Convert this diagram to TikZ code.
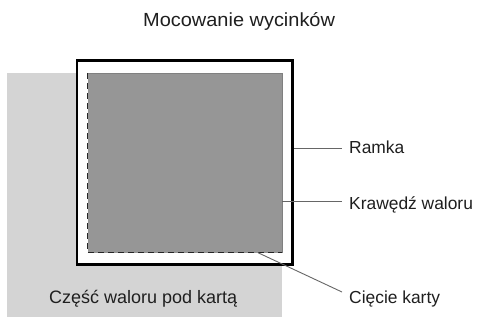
\documentclass[tikz,border=0pt]{standalone}
\usepackage{fontspec}
\setmainfont{Liberation Sans}
\begin{document}
\begin{tikzpicture}[x=1pt,y=-1pt,
  lbl/.style={anchor=base west,inner sep=0pt,text=black!88,font=\fontsize{17.4}{20}\selectfont},
  lead/.style={draw=black!60,line width=0.9pt},
  ]
\useasboundingbox (0,0) rectangle (478,327);
\fill[white] (0,0) rectangle (478,327);
% card (light gray)
\fill[black!17] (7,73) rectangle (282,317);
% white inner of frame
\fill[white] (77,60.3) rectangle (282,264.7);
\fill[white] (282,60.3) rectangle (292.7,264.7);
% stamp
\fill[black!41] (87.5,73) rectangle (282,252.7);
\draw[black!50,line width=0.6pt] (87.5,73) -- (282,73) -- (282,252.7);
\draw[black!85,line width=1.5pt,dash pattern=on 6pt off 4pt] (87.5,73) -- (87.5,252.7) -- (282,252.7);
% frame
\draw[black,line width=2.8pt] (77,60.3) rectangle (292.7,264.7);
% named points
\coordinate (frameE) at (294,148);
\coordinate (stampE) at (282,201);
\coordinate (cut) at (258,252.7);
% labels
\node[lbl,font=\fontsize{19}{22}\selectfont,xscale=1.05] (title) at (143,26.5) {Mocowanie wycinków};
\node[lbl] (ramka) at (349,153) {Ramka};
\node[lbl] (kraw) at (349,209) {Krawędź waloru};
\node[lbl] (ciecie) at (349,303) {Cięcie karty};
\node[lbl,font=\fontsize{18}{21}\selectfont] (czesc) at (49,303) {Część waloru pod kartą};
% leaders
\coordinate (rEnd) at (342,148);
\coordinate (kEnd) at (342,201);
\coordinate (cEnd) at (342,292);
\draw[lead] (frameE) -- (rEnd);
\draw[lead] (stampE) -- (kEnd);
\draw[lead] (cut) -- (cEnd);
\end{tikzpicture}
\end{document}
